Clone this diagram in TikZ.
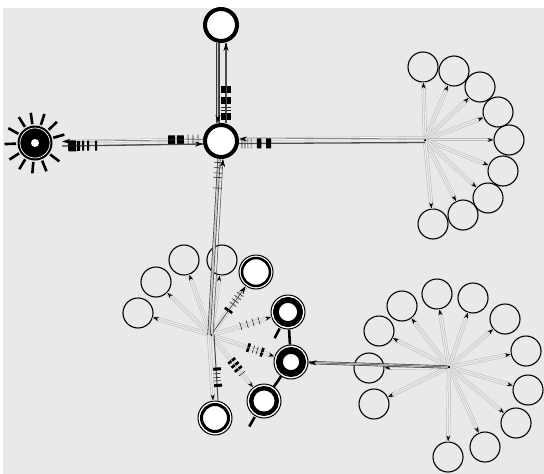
\documentclass[tikz,border=0pt]{standalone}
\usetikzlibrary{arrows.meta}
\definecolor{bg}{RGB}{233,233,233}
\tikzset{
 bigring/.style={circle,draw=black,line width=4pt,fill=white,minimum size=32pt,inner sep=0pt},
 leaf/.style={circle,draw=black,line width=1.1pt,minimum size=30pt,inner sep=0pt},
 hubnode/.style={circle,fill=black,minimum size=3pt,inner sep=0pt},
 ringnode/.style={circle,draw=black,line width=1pt,fill=white,minimum size=34pt,inner sep=0pt},
 sunnode/.style={circle,minimum size=54pt,inner sep=0pt},
 pipe/.style={draw=gray!55,line width=0.55pt,double=white!85!gray,double distance=3pt},
 core/.style={draw=gray!50,line width=0.45pt,-{Stealth[length=6pt,width=3.8pt,black]}},
 mainpipe/.style={draw=gray!45!black,line width=0.6pt,double=gray!45,double distance=2pt},
 lightpipe/.style={draw=gray!60,line width=0.55pt,double=white,double distance=2.2pt},
 darkline/.style={draw=black!70,line width=1.3pt},
 mainarrow/.style={draw=black!70,line width=0.5pt,-{Stealth[length=8pt,width=5pt,black]}},
 bar/.style={fill=black,inner sep=0pt,sloped,minimum width=2.6pt,minimum height=9pt},
 tick/.style={fill=black!85,inner sep=0pt,sloped,minimum width=0.6pt,minimum height=8pt},
 spike/.style={line width=2.6pt,black},
}
\newcommand\spk[2]{\draw[pipe] (#1) -- (#2); \draw[core] (#1) -- (#2);}
\begin{document}
\begin{tikzpicture}[x=1pt,y=-1pt]
\useasboundingbox (0,0) rectangle (544,474);
\fill[white] (0,0) rectangle (544,474);
\fill[bg] (3,8) rectangle (544,474);

% main nodes
\node[bigring] (C) at (221,141) {};
\node[bigring] (T) at (221,25) {};
\node[sunnode] (L) at (35,143) {};
\node[hubnode] (R) at (425,140) {};
\node[hubnode] (B1) at (211,335) {};
\node[hubnode] (B2) at (449,367) {};

% leaves
\foreach \n/\x/\y in {r1/423/67, r2/454/71, r3/480/87, r4/498/112, r5/509/140, r6/503/171, r7/488/198, r8/463/215, r9/433/224}
  \node[leaf] (\n) at (\x,\y) {};
\foreach \n/\x/\y in {b1/369/368, b2/374/404, b3/379/331, b4/402/306, b5/437/294, b6/473/298, b7/505/319, b8/526/351, b9/528/390, b10/516/423, b11/485/447, b12/448/457}
  \node[leaf] (\n) at (\x,\y) {};
\foreach \n/\x/\y in {n1/138/313, n2/156/282, n3/184/260, n4/222/260}
  \node[leaf] (\n) at (\x,\y) {};
\foreach \n/\x/\y in {n5/256/272, n6/288/312, n7/291/362, n8/264/401, n9/215/418}
  \node[ringnode] (\n) at (\x,\y) {};

% sun node
\fill[black] (L) circle[radius=17.5pt];
\draw[white,line width=0.7pt] (L) circle[radius=15pt];
\fill[white] (L) circle[radius=4pt];
\foreach \a in {-16,-44,-72,-98,-122,-151,178,147,121,95,68,37}
  \draw[spike] (L) ++(\a:19) -- ++(\a:11.5);

% spokes
\foreach \n in {r1,r2,r3,r4,r5,r6,r7,r8,r9} {\spk{R}{\n}}
\foreach \n in {b1,b2,b3,b4,b5,b6,b7,b8,b9,b10,b11,b12} {\spk{B2}{\n}}
\foreach \n in {n1,n2,n3,n4} {\spk{B1}{\n}}

\draw[pipe] (B1) -- (n5) node[pos=0.49,bar]{} node[pos=0.62,tick]{} node[pos=0.69,tick]{} node[pos=0.76,tick]{} node[pos=0.83,tick]{};
\draw[core,draw=black!70,line width=0.8pt,-{Stealth[length=8pt,width=5pt,black]}] (B1) -- (n5);
\draw[pipe] (B1) -- (n6) node[pos=0.48,tick]{} node[pos=0.59,tick]{} node[pos=0.69,tick]{} node[pos=0.79,tick]{};
\draw[core] (B1) -- (n6);
\draw[pipe] (B1) -- (n7) node[pos=0.58,bar]{} node[pos=0.66,tick]{} node[pos=0.72,tick]{} node[pos=0.8,bar]{};
\draw[core] (B1) -- (n7);
\draw[pipe] (B1) -- (n8) node[pos=0.48,bar]{} node[pos=0.56,bar]{} node[pos=0.64,bar]{} node[pos=0.73,tick]{};
\draw[core] (B1) -- (n8);
\draw[darkline,draw=gray!55!black,line width=1pt] ([xshift=3pt]B1.center) -- ([xshift=3pt]n9.north) node[pos=0.52,bar,minimum width=3pt,minimum height=10pt]{} node[pos=0.59,tick]{} node[pos=0.65,tick]{} node[pos=0.7,tick]{} node[pos=0.77,bar,minimum width=3pt,minimum height=10pt]{};
\draw[pipe] ([xshift=-2pt]B1.center) -- ([xshift=-2pt]n9.north);
\draw[core] ([xshift=-2pt]B1.center) -- ([xshift=-2pt]n9.north);

% inner rings
\draw[line width=2.5pt] (n5) circle[radius=14pt];
\draw[line width=5.8pt] (n6) circle[radius=12.1pt];
\draw[line width=6.8pt] (n7) circle[radius=11.6pt];
\draw[line width=4.4pt] (n8) circle[radius=12.8pt];
\draw[line width=3pt] (n9) circle[radius=13.5pt];

% black spikes between ring nodes
\draw[spike] (n6) -- (n7);
\draw[spike] (n7) -- (n8);
\draw[spike] (n6) ++(117:18.5) -- ++(117:11);
\draw[spike] (n8) ++(120:18.5) -- ++(120:11);

% T - C
\draw[mainpipe] ([xshift=-3pt]T.south) -- ([xshift=-3pt]C.north);
\draw[mainarrow] ([xshift=-3pt]T.south) -- ([xshift=-3pt]C.north);
\draw[darkline] ([xshift=5pt]C.north) -- ([xshift=5pt]T.south)
  node[pos=0.08,bar,minimum width=7pt,minimum height=10pt]{}
  node[pos=0.16,tick,minimum height=10pt]{} node[pos=0.2,tick,minimum height=10pt]{}
  node[pos=0.28,bar,minimum width=7pt,minimum height=10pt]{}
  node[pos=0.42,bar,minimum width=7pt,minimum height=10pt]{};
\draw[mainarrow] ([xshift=5pt]C.north) -- ([xshift=5pt]T.south);

% L - C
\draw[lightpipe] ([yshift=1.5pt]C.west) -- ([yshift=1.5pt]L.east)
  node[pos=0.035,tick,minimum height=10pt]{} node[pos=0.071,tick,minimum height=10pt]{} node[pos=0.106,tick,minimum height=10pt]{}
  node[pos=0.16,bar,minimum width=7pt,minimum height=9pt]{}
  node[pos=0.223,bar,minimum width=7pt,minimum height=9pt]{};
\draw[mainarrow] ([yshift=1.5pt]C.west) -- ([yshift=1.5pt]L.east);
\draw[darkline] ([yshift=-3pt]L.east) -- ([yshift=-3pt]C.west)
  node[pos=0.071,bar,minimum width=8pt,minimum height=11pt]{}
  node[pos=0.117,bar,minimum width=3pt,minimum height=10pt]{}
  node[pos=0.149,bar,minimum width=2pt,minimum height=10pt]{}
  node[pos=0.184,bar,minimum width=2pt,minimum height=10pt]{}
  node[pos=0.241,bar,minimum width=2pt,minimum height=10pt]{};
\draw[mainarrow] ([yshift=-3pt]L.east) -- ([yshift=-3pt]C.west);

% R - C
\draw[lightpipe] ([yshift=2pt]R.center) -- ([yshift=2pt]C.east);
\draw[mainarrow] ([yshift=2pt]R.center) -- ([yshift=2pt]C.east);
\draw[darkline] ([yshift=-2.5pt]C.east) -- ([yshift=-2.5pt]R.center)
  node[pos=0.016,tick,minimum height=10pt]{} node[pos=0.032,tick,minimum height=10pt]{}
  node[pos=0.048,tick,minimum height=10pt]{} node[pos=0.065,tick,minimum height=10pt]{}
  node[pos=0.108,bar,minimum width=4.5pt,minimum height=10pt]{}
  node[pos=0.159,bar,minimum width=5pt,minimum height=10pt]{};

% B1 - C
\draw[mainpipe] ([xshift=-2pt]C.south) -- ([xshift=-2pt]B1.center)
  node[pos=0.02,tick,minimum height=9pt]{} node[pos=0.05,tick,minimum height=9pt]{}
  node[pos=0.08,tick,minimum height=9pt]{} node[pos=0.105,tick,minimum height=9pt]{}
  node[pos=0.165,tick,minimum height=9pt]{};
\draw[mainarrow] ([xshift=2pt]B1.center) -- ([xshift=2pt]C.south);

% B2 - n7
\draw[mainpipe] (B2) -- (n7);
\draw[mainarrow] (B2) -- (n7);
\end{tikzpicture}
\end{document}
